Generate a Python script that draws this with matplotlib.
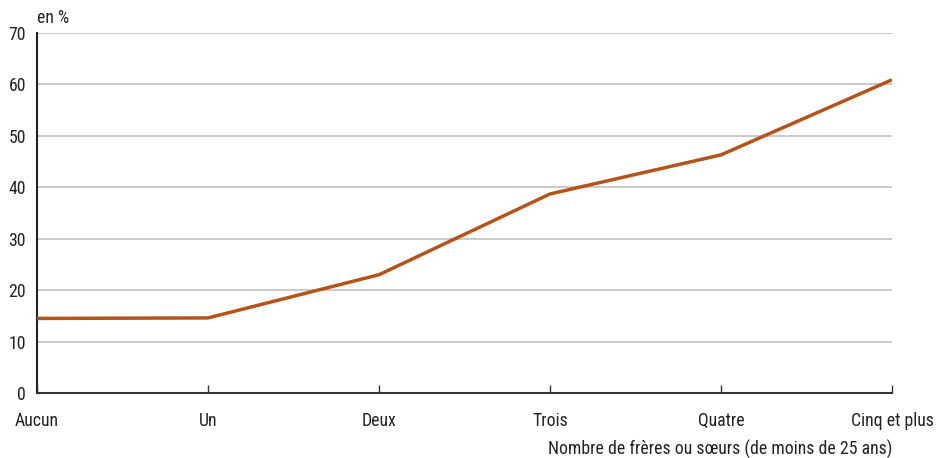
import matplotlib
matplotlib.use("Agg")
import matplotlib.pyplot as plt

plt.rcParams['font.family'] = ['Roboto Condensed', 'DejaVu Sans']

categories = ["Aucun", "Un", "Deux", "Trois", "Quatre", "Cinq et plus"]
values = [14.5, 14.6, 23.0, 38.7, 46.3, 60.9]
yticks = [0, 10, 20, 30, 40, 50, 60, 70]

FS = 12.8

fig = plt.figure(figsize=(9.36, 4.58), dpi=100)
ax = fig.add_axes([37/936, 65/458, (892-37)/936, (393-33)/458])

x = list(range(len(categories)))
ax.plot(x, values, color="#B5541A", linewidth=2.5, solid_capstyle='butt', zorder=3)

ax.set_xlim(0, len(categories) - 1)
ax.set_ylim(0, 70)
ax.set_yticks(yticks)
ax.set_yticklabels([str(v) for v in yticks], fontsize=FS)
ax.set_xticks(x)
ax.set_xticklabels(categories, fontsize=FS)
ax.tick_params(axis='y', length=0, pad=8, colors='#222222')
ax.tick_params(axis='x', direction='in', length=6, width=1, color='#333333', pad=14, labelcolor='#222222')

for v in yticks[1:]:
    ax.axhline(v, color='#c0c0c0', linewidth=1.2, zorder=1)

for s in ['top', 'right']:
    ax.spines[s].set_visible(False)
ax.spines['left'].set_color('#222222')
ax.spines['bottom'].set_color('#333333')
ax.spines['left'].set_linewidth(1.5)
ax.spines['bottom'].set_linewidth(1.5)

fig.text(37/936, 1 - 18/458, "en %", fontsize=FS, color='#222222', va='center', ha='left')
fig.text(892/936, 1 - 449/458, "Nombre de frères ou sœurs (de moins de 25 ans)", fontsize=FS,
         color='#222222', va='center', ha='right')

fig.savefig("out.png", dpi=100)
